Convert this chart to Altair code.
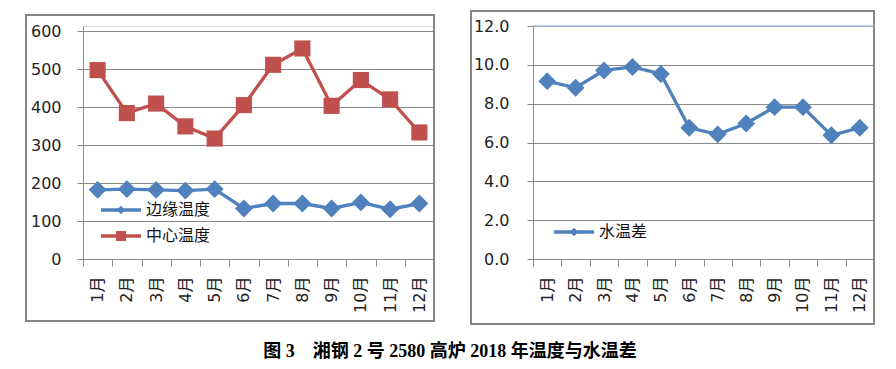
import altair as alt
import pandas as pd

months = ["1月", "2月", "3月", "4月", "5月", "6月", "7月", "8月", "9月", "10月", "11月", "12月"]
edge_temp = [182, 184, 182, 180, 184, 133, 146, 146, 133, 149, 131, 146]
center_temp = [497, 384, 409, 349, 317, 405, 511, 554, 403, 471, 420, 333]
water_diff = [9.16, 8.82, 9.71, 9.89, 9.53, 6.76, 6.42, 6.98, 7.82, 7.82, 6.37, 6.76]
series_left = ["边缘温度", "中心温度"]
series_right = ["水温差"]
left_ticks = [0, 100, 200, 300, 400, 500, 600]
right_ticks = [0, 2, 4, 6, 8, 10, 12]
caption = "图 3\u3000湘钢 2 号 2580 高炉 2018 年温度与水温差"

BLUE = "#4F81BD"
RED = "#C0504D"
GRAY = "#8a8a8a"
BOX = "#868686"
NUM_FONT = "DejaVu Sans, Noto Sans CJK SC"
CJK_FONT = "Noto Sans CJK SC"
DIAMOND = 320
SQUARE = 260

df_edge = pd.DataFrame({"month": months, "value": edge_temp})
df_center = pd.DataFrame({"month": months, "value": center_temp})
df_right = pd.DataFrame({"month": months, "value": water_diff})
df_top = pd.DataFrame({"value": [right_ticks[-1]]})
one = pd.DataFrame({"a": [0]})

H = 233            # shared plot height of both panels
LEFT_SPAN = 228    # pixels used by 0..600 in the left panel


def x_enc():
    return alt.X(
        "month:O", sort=months,
        scale=alt.Scale(type="band", paddingInner=0, paddingOuter=0),
        axis=alt.Axis(title=None, labelAngle=270, tickBand="extent", labelFontSize=16,
                      labelFont=NUM_FONT, labelColor="#222", labelPadding=10, tickSize=7,
                      tickColor=GRAY, domainColor=GRAY, grid=False),
    )


def y_enc(ticks, fmt, pad, top):
    return alt.Y(
        "value:Q", scale=alt.Scale(domain=[ticks[0], top], nice=False),
        axis=alt.Axis(title=None, values=ticks, format=fmt, labelFontSize=16, labelFont=NUM_FONT,
                      labelColor="#222", labelPadding=pad, tickSize=6, tickColor=GRAY,
                      domainColor=GRAY, gridColor=GRAY, grid=True, labelOverlap=False),
    )


# ---------- left panel ----------
lw = 351
yl = y_enc(left_ticks, "d", 16, left_ticks[-1] * H / LEFT_SPAN)
edge_line = alt.Chart(df_edge).mark_line(strokeWidth=3.3, color=BLUE).encode(x=x_enc(), y=yl)
edge_pts = alt.Chart(df_edge).mark_point(filled=True, opacity=1, color=BLUE, shape="diamond",
                                         size=DIAMOND).encode(x=x_enc(), y=yl)
center_line = alt.Chart(df_center).mark_line(strokeWidth=3.3, color=RED).encode(x=x_enc(), y=yl)
center_pts = alt.Chart(df_center).mark_point(filled=True, opacity=1, color=RED, shape="square",
                                             size=SQUARE).encode(x=x_enc(), y=yl)
box_l = alt.Chart(one).mark_rect(fill="white", fillOpacity=0, stroke=BOX, strokeWidth=2).encode(
    x=alt.value(-57), x2=alt.value(lw), y=alt.value(-11), y2=alt.value(295))
leg_l = []
for i, (name, col, shp, sz) in enumerate(zip(series_left, [BLUE, RED], ["diamond", "square"], [70, 100])):
    yy = 184 + i * 26
    leg_l.append(alt.Chart(one).mark_rule(color=col, strokeWidth=3.3).encode(
        x=alt.value(18), x2=alt.value(58), y=alt.value(yy)))
    leg_l.append(alt.Chart(one).mark_point(filled=True, opacity=1, color=col, shape=shp, size=sz).encode(
        x=alt.value(38), y=alt.value(yy)))
    leg_l.append(alt.Chart(pd.DataFrame({"t": [name]})).mark_text(
        align="left", baseline="middle", fontSize=16, font=CJK_FONT, color="#111").encode(
        x=alt.value(63), y=alt.value(yy), text="t:N"))

left = alt.layer(box_l, edge_line, center_line, edge_pts, center_pts, *leg_l).properties(
    width=lw, height=H)

# ---------- right panel ----------
rw = 341
yr = y_enc(right_ticks, ".1f", 18, right_ticks[-1])
lines_r = alt.Chart(df_right).mark_line(strokeWidth=3.3, color=BLUE).encode(x=x_enc(), y=yr)
pts_r = alt.Chart(df_right).mark_point(filled=True, opacity=1, color=BLUE, shape="diamond",
                                       size=DIAMOND).encode(x=x_enc(), y=yr)
top_r = alt.Chart(df_top).mark_rule(color="#a3bfe0", strokeWidth=1.5).encode(
    y=yr, x=alt.value(0), x2=alt.value(rw))
box_r = alt.Chart(one).mark_rect(fill="white", fillOpacity=0, stroke=BOX, strokeWidth=2).encode(
    x=alt.value(-62), x2=alt.value(rw), y=alt.value(-15), y2=alt.value(298))
leg_r = [
    alt.Chart(one).mark_rule(color=BLUE, strokeWidth=3.3).encode(x=alt.value(21), x2=alt.value(61), y=alt.value(206)),
    alt.Chart(one).mark_point(filled=True, opacity=1, color=BLUE, shape="diamond", size=70).encode(
        x=alt.value(41), y=alt.value(206)),
    alt.Chart(pd.DataFrame({"t": series_right})).mark_text(
        align="left", baseline="middle", fontSize=16, font=CJK_FONT, color="#111").encode(
        x=alt.value(66), y=alt.value(206), text="t:N"),
]
right = alt.layer(box_r, top_r, lines_r, pts_r, *leg_r).properties(width=rw, height=H)

chart = alt.hconcat(left, right, spacing=33).properties(
    padding={"left": 16, "top": 1, "right": 5, "bottom": 0},
    title=alt.TitleParams(text=caption, orient="bottom", anchor="middle", fontSize=18,
                          font="Liberation Serif, Noto Sans CJK SC", fontWeight="bold",
                          color="#000", offset=17, baseline="top"),
).configure_view(stroke=None).configure(background="white")

chart.save("out.html", embed_options={"renderer": "svg", "actions": False})
